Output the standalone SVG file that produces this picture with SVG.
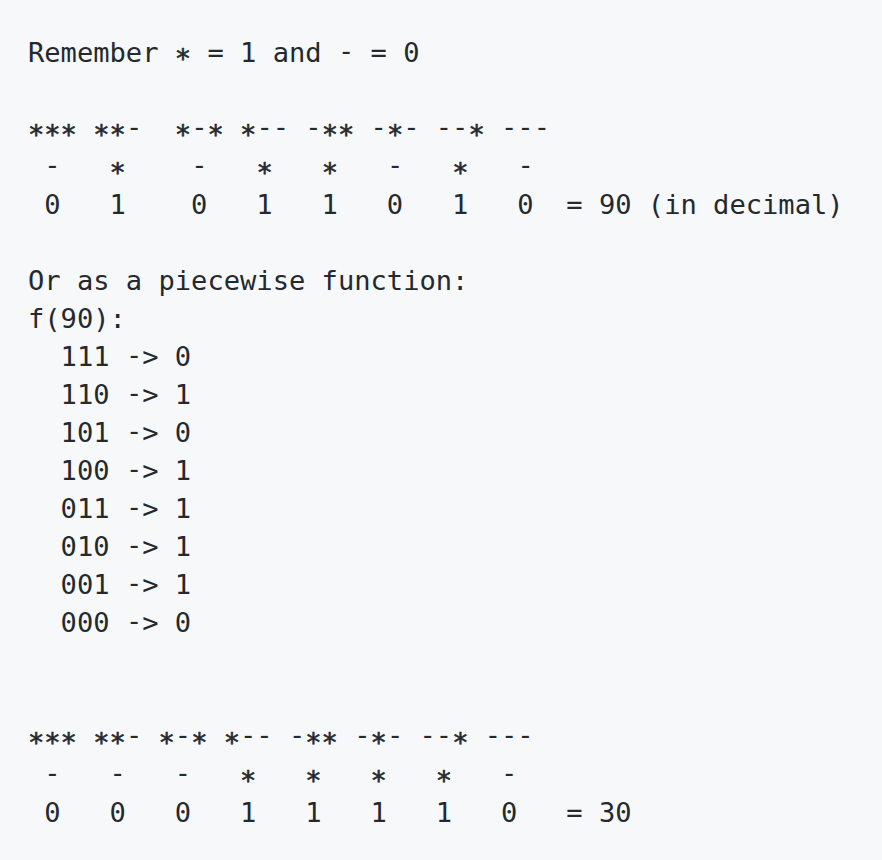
<svg xmlns="http://www.w3.org/2000/svg" width="882" height="860" viewBox="0 0 882 860">
<style>
text{font-family:"DejaVu Sans Mono","Liberation Mono",monospace;font-size:27.1px;fill:#24292e;white-space:pre}
.a{baseline-shift:-6px;stroke:#24292e;stroke-width:0.6px}
.m{baseline-shift:2px}
</style>
<rect x="0" y="0" width="882" height="860" fill="#f6f8fa"/>
<g id="legend">
<text x="28" y="62" xml:space="preserve">Remember <tspan class="a">*</tspan> = 1 and <tspan class="m">-</tspan> = 0</text>
</g>
<g id="rule90">
<text x="28" y="138" xml:space="preserve"><tspan class="a">***</tspan> <tspan class="a">**</tspan><tspan class="m">-</tspan>  <tspan class="a">*</tspan><tspan class="m">-</tspan><tspan class="a">*</tspan> <tspan class="a">*</tspan><tspan class="m">--</tspan> <tspan class="m">-</tspan><tspan class="a">**</tspan> <tspan class="m">-</tspan><tspan class="a">*</tspan><tspan class="m">-</tspan> <tspan class="m">--</tspan><tspan class="a">*</tspan> <tspan class="m">---</tspan></text>
<text x="28" y="176" xml:space="preserve"> <tspan class="m">-</tspan>   <tspan class="a">*</tspan>    <tspan class="m">-</tspan>   <tspan class="a">*</tspan>   <tspan class="a">*</tspan>   <tspan class="m">-</tspan>   <tspan class="a">*</tspan>   <tspan class="m">-</tspan></text>
<text x="28" y="214" xml:space="preserve"> 0   1    0   1   1   0   1   0  = 90 (in decimal)</text>
</g>
<g id="piecewise">
<text x="28" y="290" xml:space="preserve">Or as a piecewise function:</text>
<text x="28" y="328" xml:space="preserve">f(90):</text>
<text x="28" y="366" xml:space="preserve">  111 <tspan class="m">-</tspan>&gt; 0</text>
<text x="28" y="404" xml:space="preserve">  110 <tspan class="m">-</tspan>&gt; 1</text>
<text x="28" y="442" xml:space="preserve">  101 <tspan class="m">-</tspan>&gt; 0</text>
<text x="28" y="480" xml:space="preserve">  100 <tspan class="m">-</tspan>&gt; 1</text>
<text x="28" y="518" xml:space="preserve">  011 <tspan class="m">-</tspan>&gt; 1</text>
<text x="28" y="556" xml:space="preserve">  010 <tspan class="m">-</tspan>&gt; 1</text>
<text x="28" y="594" xml:space="preserve">  001 <tspan class="m">-</tspan>&gt; 1</text>
<text x="28" y="632" xml:space="preserve">  000 <tspan class="m">-</tspan>&gt; 0</text>
</g>
<g id="rule30">
<text x="28" y="746" xml:space="preserve"><tspan class="a">***</tspan> <tspan class="a">**</tspan><tspan class="m">-</tspan> <tspan class="a">*</tspan><tspan class="m">-</tspan><tspan class="a">*</tspan> <tspan class="a">*</tspan><tspan class="m">--</tspan> <tspan class="m">-</tspan><tspan class="a">**</tspan> <tspan class="m">-</tspan><tspan class="a">*</tspan><tspan class="m">-</tspan> <tspan class="m">--</tspan><tspan class="a">*</tspan> <tspan class="m">---</tspan></text>
<text x="28" y="784" xml:space="preserve"> <tspan class="m">-</tspan>   <tspan class="m">-</tspan>   <tspan class="m">-</tspan>   <tspan class="a">*</tspan>   <tspan class="a">*</tspan>   <tspan class="a">*</tspan>   <tspan class="a">*</tspan>   <tspan class="m">-</tspan></text>
<text x="28" y="822" xml:space="preserve"> 0   0   0   1   1   1   1   0   = 30</text>
</g>
<g id="connectors"></g>
</svg>
